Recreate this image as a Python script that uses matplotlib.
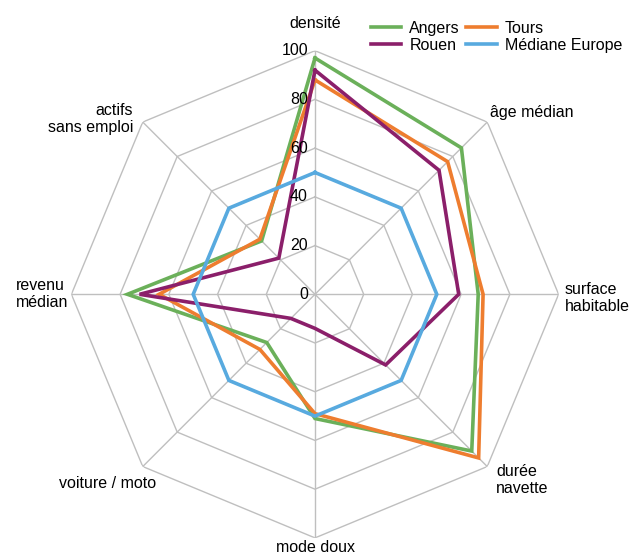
import numpy as np
import matplotlib
matplotlib.use("Agg")
import matplotlib.pyplot as plt

plt.rcParams['font.family'] = ['Liberation Sans', 'DejaVu Sans']

categories = ["densité", "âge médian", "surface\nhabitable", "durée\nnavette",
              "mode doux", "voiture / moto", "revenu\nmédian", "actifs\nsans emploi"]
angers = [97, 85, 67, 91, 51, 28, 77, 31]
tours = [88, 77, 69, 95, 49, 32, 64, 32]
rouen = [92, 72, 59, 41, 14, 14, 72, 21]
mediane = [50, 50, 50, 50, 50, 50, 50, 50]
series_names = ["Angers", "Tours", "Rouen", "Médiane Europe"]
series_values = [angers, tours, rouen, mediane]
series_colors = ["#6BB05A", "#EE7D2F", "#8B1F6A", "#58AADF"]
rings = [20, 40, 60, 80, 100]
tick_labels = ["0", "20", "40", "60", "80", "100"]

W, H = 633, 559
fig = plt.figure(figsize=(W / 100, H / 100), dpi=100)
cx, cy, R = 315, 294.3, 243.6
ax = fig.add_axes([(cx - R) / W, 1 - (cy + R) / H, 2 * R / W, 2 * R / H], projection='polar')
ax.set_theta_zero_location('N')
ax.set_theta_direction(-1)
ax.set_ylim(0, 100)
ax.grid(False)
ax.spines['polar'].set_visible(False)
ax.set_xticks([])
ax.set_yticks([])
ax.patch.set_alpha(0)

n = len(categories)
theta = np.arange(n) * 2 * np.pi / n
theta_c = np.append(theta, theta[0])

grid_color = "#BFBFBF"
for r in rings:
    ax.plot(theta_c, [r] * (n + 1), color=grid_color, lw=1.0, zorder=1)
for t in theta:
    ax.plot([t, t], [0, 100], color=grid_color, lw=1.0, zorder=1)

handles = {}
for name, vals, col in zip(series_names, series_values, series_colors):
    v = list(vals) + [vals[0]]
    h, = ax.plot(theta_c, v, color=col, lw=2.6, zorder=3, solid_joinstyle='miter')
    handles[name] = h

# radial tick labels
fs = 11.5
for i, lab in enumerate(tick_labels):
    r = i * 20
    x, y = cx - 7, cy - r * R / 100
    fig.text(x / W, 1 - y / H, lab, ha='right', va='center', fontsize=fs, color='#000000')

# category labels (pixel positions)
label_pos = [
    (315, 23, 'center', 'center'),
    (490, 113, 'left', 'center'),
    (565, 298, 'left', 'center'),
    (496, 480, 'left', 'center'),
    (316, 548, 'center', 'center'),
    (156, 484, 'right', 'center'),
    (16, 294, 'left', 'center'),
    (133, 119, 'right', 'center'),
]
for lab, (x, y, ha, va) in zip(categories, label_pos):
    fig.text(x / W, 1 - y / H, lab, ha=ha, va=va, fontsize=fs,
             multialignment=ha if ha != 'center' else 'center', linespacing=1.15)

order = ["Angers", "Rouen", "Tours", "Médiane Europe"]
fig.legend([handles[k] for k in order], order, ncol=2, frameon=False,
           loc='upper left', bbox_to_anchor=(371 / W, 1 - 21 / H),
           fontsize=fs, handlelength=1.9, handletextpad=0.5,
           columnspacing=0.4, labelspacing=0.1, borderpad=0, borderaxespad=0)

fig.savefig("out.png", dpi=100)
